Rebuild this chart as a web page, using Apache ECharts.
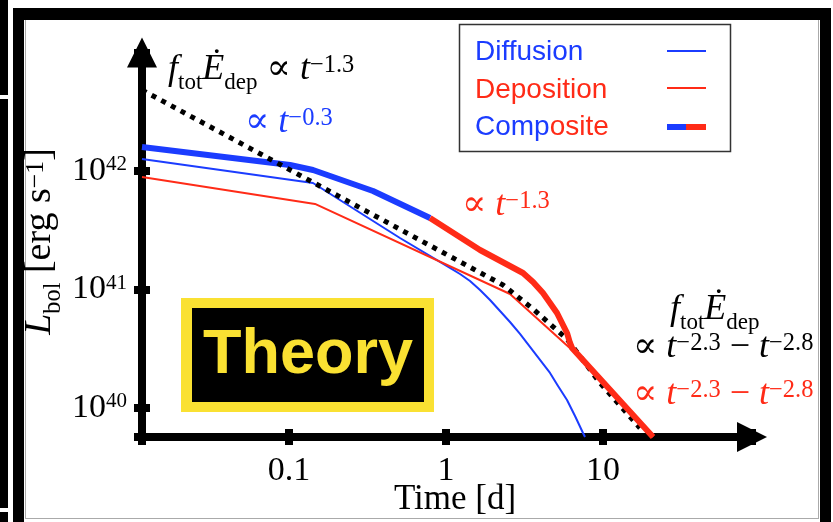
<!DOCTYPE html>
<html><head><meta charset="utf-8">
<script src="https://cdn.jsdelivr.net/npm/echarts@6/dist/echarts.min.js"></script>
<style>html,body{margin:0;padding:0;background:#fff}#c{width:833px;height:522px}</style>
</head><body><div id="c"></div>
<script>
// ---- data (time in days, luminosity in erg/s) ----
const xTickValues = [0.1, 1, 10];
const xTickLabels = ['0.1', '1', '10'];
const yTickValues = [1e40, 1e41, 1e42];
const yTickExponents = ['40', '41', '42'];
const xRange = [0.01158, 88.9];
const yRange = [5.69e39, 1e43];

const diffusion = [
  [0.01158, 1.263e42], [0.1422, 7.92e41], [0.509, 2.72e41], [1.060, 1.519e41],
  [1.228, 1.351e41], [1.422, 1.180e41], [1.647, 9.90e40], [1.907, 8.155e40],
  [2.208, 6.585e40], [2.556, 5.317e40], [2.960, 4.212e40], [3.428, 3.272e40],
  [3.969, 2.542e40], [4.597, 1.975e40], [5.170, 1.534e40], [5.898, 1.168e40],
  [6.633, 8.56e39], [7.458, 6.152e39], [7.680, 5.692e39]
];
const deposition = [
  [0.01158, 8.90e41], [0.1464, 5.27e41], [2.556, 9.16e40], [6.346, 3.09e40], [20.83, 5.69e39]
];
const energyDeposition = [
  [0.01158, 4.83e42], [2.307, 1.091e41], [3.583, 6.85e40], [5.898, 3.82e40],
  [9.57, 1.626e40], [17.2, 6.78e39]
];
const compositeDiffusion = [
  [0.01158, 1.594e42], [0.1015, 1.124e42], [0.1422, 1.020e42], [0.3428, 6.78e41], [0.7909, 4.013e41]
];
const compositeDeposition = [
  [0.7909, 4.013e41], [1.647, 2.154e41], [3.093, 1.378e41], [3.583, 1.157e41],
  [4.147, 9.34e40], [4.597, 7.69e40], [5.093, 6.33e40], [5.563, 5.017e40],
  [5.898, 4.295e40], [6.163, 3.536e40], [6.346, 3.209e40], [20.83, 5.69e39]
];

// ---- styling ----
const BLUE = '#1B3CFF', RED = '#FF2B17', YELLOW = '#FAE132';
const SERIF = "'Liberation Serif','DejaVu Serif',serif";
const SANS = "'Liberation Sans',Arial,sans-serif";

function richSet(s, color) {
  const L = 1.55 * s, fsp = 0.68 * s, fsb = 0.64 * s;
  const up = 0.3375 * fsp - 0.1175 * s;      // raise of superscript centre
  const down = 0.5775 * s - 0.3375 * fsb;    // drop of subscript centre
  const base = {fontFamily: SERIF, fill: color, verticalAlign: 'middle'};
  return {
    i: Object.assign({fontSize: s, fontStyle: 'italic', lineHeight: L}, base),
    r: Object.assign({fontSize: s, lineHeight: L}, base),
    sp: Object.assign({fontSize: fsp, lineHeight: 4, padding: [0, 0, 2 * up, 0]}, base),
    sb: Object.assign({fontSize: fsb, lineHeight: 4, padding: [2 * down, 0, 0, 0]}, base)
  };
}
function note(x, baseline, text, color, s) {
  s = s || 36;
  return {type: 'text', x: x, y: baseline - 1.1125 * s, z: 50,
    style: {text: text, rich: richSet(s, color), align: 'left', verticalAlign: 'top'}};
}

const chart = echarts.init(document.getElementById('c'), null, {renderer: 'canvas'});

const axisLineStyle = {color: '#000', width: 8, cap: 'square'};
const tickStyle = {color: '#000', width: 8, cap: 'butt'};

const option = {
  animation: false,
  backgroundColor: '#fff',
  grid: {left: 142, right: 81, top: 52.5, bottom: 85, containLabel: false, outerBoundsMode: 'none'},
  xAxis: [{
    type: 'log', logBase: 10, min: xRange[0], max: xRange[1], position: 'bottom',
    name: 'Time [d]', nameLocation: 'middle', nameGap: 45, nameMoveOverlap: false,
    nameTextStyle: {fontFamily: SERIF, fontSize: 35, color: '#000', lineHeight: 35, padding: [0, 0, 0, 16]},
    axisLine: {show: true, lineStyle: axisLineStyle, symbol: ['none', 'triangle'], symbolSize: [30, 30]},
    axisTick: {show: true, length: 8, inside: false, lineStyle: tickStyle},
    minorTick: {show: false}, splitLine: {show: false},
    axisLabel: {
      margin: 17, fontFamily: SERIF, fontSize: 34, color: '#000', lineHeight: 34,
      formatter: function (v) {
        for (let k = 0; k < xTickValues.length; k++) {
          if (Math.abs(Math.log10(v) - Math.log10(xTickValues[k])) < 1e-6) return xTickLabels[k];
        }
        return '';
      }
    }
  }, {
    type: 'log', logBase: 10, min: xRange[0], max: xRange[1], position: 'bottom',
    axisLine: {show: false}, axisTick: {show: true, length: 8, inside: true, lineStyle: tickStyle},
    axisLabel: {show: false}, splitLine: {show: false}
  }],
  yAxis: [{
    type: 'log', logBase: 10, min: yRange[0], max: yRange[1], position: 'left',
    axisLine: {show: true, lineStyle: axisLineStyle, symbol: ['none', 'triangle'], symbolSize: [30, 30]},
    axisTick: {show: true, length: 8, inside: false, lineStyle: tickStyle},
    minorTick: {show: false}, splitLine: {show: false},
    axisLabel: {
      margin: 15,
      formatter: function (v) {
        for (let k = 0; k < yTickValues.length; k++) {
          if (Math.abs(Math.log10(v) - Math.log10(yTickValues[k])) < 1e-6) return '{m|10}{sp|' + yTickExponents[k] + '}';
        }
        return '';
      },
      rich: {
        m: {fontFamily: SERIF, fontSize: 34, color: '#000', lineHeight: 34},
        sp: {fontFamily: SERIF, fontSize: 21, color: '#000', lineHeight: 21, verticalAlign: 'top'}
      }
    }
  }, {
    type: 'log', logBase: 10, min: yRange[0], max: yRange[1], position: 'left',
    axisLine: {show: false}, axisTick: {show: true, length: 8, inside: true, lineStyle: tickStyle},
    axisLabel: {show: false}, splitLine: {show: false}
  }],
  series: [
    {name: 'Diffusion', type: 'line', data: diffusion, showSymbol: false, symbol: 'none', clip: false,
      lineStyle: {color: BLUE, width: 2, join: 'round'}, smooth: false},
    {name: 'Deposition', type: 'line', data: deposition, showSymbol: false, symbol: 'none', clip: false,
      lineStyle: {color: RED, width: 2}},
    {name: 'Composite (diffusion)', type: 'line', data: compositeDiffusion, showSymbol: false, symbol: 'none', clip: false,
      lineStyle: {color: BLUE, width: 6, cap: 'butt', join: 'round'}},
    {name: 'f_tot E_dep', type: 'line', data: energyDeposition, showSymbol: false, symbol: 'none', clip: false,
      lineStyle: {color: '#000', width: 5, type: [5, 6], cap: 'butt'}},
    {name: 'Composite (deposition)', type: 'line', data: compositeDeposition, showSymbol: false, symbol: 'none', clip: false,
      lineStyle: {color: RED, width: 6, cap: 'butt', join: 'round'}}
  ],
  graphic: [
    // cropped neighbour panel strip
    {type: 'rect', shape: {x: 0, y: 0, width: 8, height: 95}, style: {fill: '#000'}},
    {type: 'rect', shape: {x: 0, y: 99, width: 8, height: 409}, style: {fill: '#000'}},
    {type: 'rect', shape: {x: 0, y: 512, width: 8, height: 10}, style: {fill: '#000'}},
    // frame
    {type: 'rect', shape: {x: 13, y: 8, width: 818, height: 12}, style: {fill: '#000'}},
    {type: 'rect', shape: {x: 13, y: 8, width: 11, height: 514}, style: {fill: '#000'}},
    {type: 'rect', shape: {x: 820, y: 8, width: 11, height: 514}, style: {fill: '#000'}},
    {type: 'line', shape: {x1: 25.5, y1: 20, x2: 25.5, y2: 518}, style: {stroke: '#aaa', lineWidth: 1}},
    {type: 'line', shape: {x1: 818.5, y1: 20, x2: 818.5, y2: 518}, style: {stroke: '#aaa', lineWidth: 1}},
    {type: 'line', shape: {x1: 25, y1: 518.5, x2: 819, y2: 518.5}, style: {stroke: '#aaa', lineWidth: 1}},
    // legend
    {type: 'rect', shape: {x: 459.5, y: 24.5, width: 271, height: 127}, style: {fill: '#fff', stroke: '#333', lineWidth: 1.5}},
    {type: 'text', x: 475, y: 52, style: {text: 'Diffusion', fill: BLUE, fontSize: 28, fontFamily: SANS, align: 'left', verticalAlign: 'middle'}},
    {type: 'text', x: 475, y: 90, style: {text: 'Deposition', fill: RED, fontSize: 28, fontFamily: SANS, align: 'left', verticalAlign: 'middle'}},
    {type: 'text', x: 475, y: 127.5, style: {text: '{b|Comp}{r|osite}', align: 'left', verticalAlign: 'middle',
      rich: {b: {fill: BLUE, fontSize: 28, fontFamily: SANS}, r: {fill: RED, fontSize: 28, fontFamily: SANS}}}},
    {type: 'line', shape: {x1: 667, y1: 51, x2: 706, y2: 51}, style: {stroke: BLUE, lineWidth: 2}},
    {type: 'line', shape: {x1: 667, y1: 88, x2: 706, y2: 88}, style: {stroke: RED, lineWidth: 2}},
    {type: 'line', shape: {x1: 667, y1: 127, x2: 686, y2: 127}, style: {stroke: BLUE, lineWidth: 6}},
    {type: 'line', shape: {x1: 686, y1: 127, x2: 706, y2: 127}, style: {stroke: RED, lineWidth: 6}},
    // Theory box
    {type: 'rect', shape: {x: 181, y: 298, width: 253, height: 114}, style: {fill: YELLOW}},
    {type: 'rect', shape: {x: 192, y: 308, width: 232, height: 94}, style: {fill: '#000'}},
    {type: 'text', x: 308, y: 356, style: {text: 'Theory', fill: YELLOW, fontSize: 63, fontWeight: 'bold', fontFamily: SANS, align: 'center', verticalAlign: 'middle'}},
    // annotations
    note(168, 82, '{i|f}{sb|tot}{i|Ė}{sb|dep}{r| ∝ }{i|t}{sp|−1.3}', '#000'),
    note(245, 135, '{r|∝ }{i|t}{sp|−0.3}', BLUE),
    note(462, 218, '{r|∝ }{i|t}{sp|−1.3}', RED),
    note(670, 322, '{i|f}{sb|tot}{i|Ė}{sb|dep}', '#000'),
    note(633, 360, '{r|∝ }{i|t}{sp|−2.3}{r| − }{i|t}{sp|−2.8}', '#000'),
    note(633, 407, '{r|∝ }{i|t}{sp|−2.3}{r| − }{i|t}{sp|−2.8}', RED),
    // y axis title
    {type: 'text', x: 40, y: 241.5, rotation: Math.PI / 2, z: 50,
      style: {text: '{i|L}{sb|bol}{r| [erg s}{sp|−1}{r|]}', rich: richSet(38, '#000'), align: 'center', verticalAlign: 'middle'}}
  ]
};
chart.setOption(option);
</script>
</body></html>
